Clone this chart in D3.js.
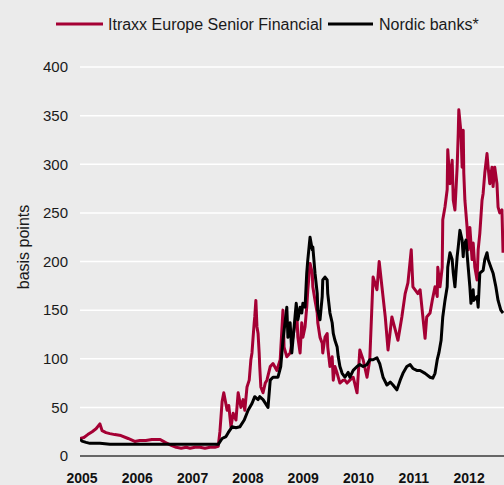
<!DOCTYPE html>
<html><head><meta charset="utf-8">
<script src="https://cdn.jsdelivr.net/npm/d3@7"></script>
<style>
html,body{margin:0;padding:0;background:#ebebeb;}
svg{display:block;font-family:"Liberation Sans",Arial,Helvetica,sans-serif;}
</style></head>
<body><svg id="c" width="504" height="485"></svg>
<script>
const seriesNames = ["Itraxx Europe Senior Financial", "Nordic banks*"];
const yTicks = [0, 50, 100, 150, 200, 250, 300, 350, 400];
const xTicks = [2005, 2006, 2007, 2008, 2009, 2010, 2011, 2012];

const itraxxYears = [2005.00,2005.07,2005.14,2005.22,2005.29,2005.36,2005.40,2005.47,2005.54,2005.63,2005.74,2005.87,2005.99,2006.08,2006.19,2006.30,2006.45,2006.54,2006.65,2006.74,2006.83,2006.92,2006.99,2007.08,2007.17,2007.26,2007.35,2007.44,2007.50,2007.53,2007.57,2007.60,2007.66,2007.69,2007.73,2007.77,2007.82,2007.86,2007.91,2007.95,2007.98,2008.02,2008.06,2008.09,2008.11,2008.13,2008.15,2008.16,2008.18,2008.20,2008.22,2008.24,2008.25,2008.27,2008.31,2008.35,2008.38,2008.44,2008.49,2008.56,2008.62,2008.67,2008.69,2008.74,2008.80,2008.85,2008.92,2008.94,2008.98,2009.01,2009.03,2009.07,2009.10,2009.12,2009.16,2009.20,2009.21,2009.25,2009.29,2009.30,2009.34,2009.38,2009.39,2009.43,2009.47,2009.48,2009.52,2009.56,2009.58,2009.61,2009.65,2009.70,2009.76,2009.79,2009.83,2009.88,2009.94,2010.01,2010.06,2010.12,2010.19,2010.24,2010.30,2010.37,2010.41,2010.46,2010.52,2010.57,2010.64,2010.70,2010.75,2010.82,2010.88,2010.93,2010.99,2011.02,2011.11,2011.15,2011.20,2011.24,2011.27,2011.33,2011.37,2011.42,2011.46,2011.47,2011.51,2011.55,2011.56,2011.60,2011.64,2011.65,2011.69,2011.73,2011.75,2011.78,2011.82,2011.84,2011.85,2011.89,2011.91,2011.93,2011.94,2011.96,2012.00,2012.02,2012.05,2012.09,2012.11,2012.14,2012.18,2012.20,2012.23,2012.27,2012.29,2012.32,2012.36,2012.38,2012.41,2012.45,2012.47,2012.50,2012.54,2012.56,2012.59,2012.63,2012.65];
const itraxxValues = [18,19,22,25,28,33,26,24,23,22,21,18,15,16,16,17,17,14,11,9,8,9,8,9,9,8,9,9,10,25,56,65,47,52,30,44,37,65,50,58,47,71,78,99,106,122,137,143,160,133,126,106,92,71,65,75,78,92,95,88,99,150,112,102,106,122,147,122,106,137,122,133,153,171,198,188,174,160,147,137,122,116,106,122,126,112,92,102,78,92,85,75,78,78,75,78,81,65,109,99,81,99,184,171,200,174,143,109,143,130,119,143,167,178,212,174,167,171,143,121,143,147,160,174,164,194,174,194,243,256,274,315,280,304,263,253,297,332,356,332,297,335,291,263,235,212,235,202,219,194,181,212,229,263,270,291,311,297,280,297,277,297,280,256,250,253,209];

const nordicYears = [2005.00,2005.05,2005.11,2005.18,2005.36,2005.54,2007.50,2007.57,2007.64,2007.68,2007.75,2007.82,2007.89,2007.97,2008.04,2008.11,2008.16,2008.22,2008.25,2008.31,2008.40,2008.44,2008.49,2008.58,2008.63,2008.67,2008.74,2008.76,2008.80,2008.83,2008.85,2008.91,2008.94,2008.98,2009.01,2009.03,2009.07,2009.10,2009.12,2009.16,2009.20,2009.21,2009.25,2009.29,2009.30,2009.34,2009.38,2009.39,2009.43,2009.47,2009.48,2009.52,2009.56,2009.58,2009.61,2009.65,2009.67,2009.70,2009.74,2009.79,2009.85,2009.88,2009.94,2010.01,2010.06,2010.12,2010.19,2010.24,2010.30,2010.37,2010.42,2010.48,2010.55,2010.61,2010.66,2010.73,2010.79,2010.84,2010.91,2010.97,2011.02,2011.09,2011.15,2011.24,2011.33,2011.38,2011.42,2011.46,2011.49,2011.53,2011.56,2011.60,2011.64,2011.65,2011.69,2011.73,2011.75,2011.78,2011.82,2011.84,2011.87,2011.91,2011.93,2011.94,2011.98,2012.02,2012.05,2012.07,2012.11,2012.12,2012.18,2012.20,2012.23,2012.29,2012.32,2012.36,2012.38,2012.43,2012.47,2012.52,2012.56,2012.61,2012.65];
const nordicValues = [17,15,14,13,13,12,12,18,20,24,30,29,30,37,47,54,61,58,61,58,50,78,81,81,92,119,153,122,137,106,119,157,140,153,147,157,153,188,202,225,212,215,188,167,150,140,164,181,184,181,167,147,137,126,119,112,102,92,85,81,86,81,88,92,94,92,94,99,99,101,95,81,73,76,73,68,78,85,92,94,90,88,88,85,81,80,85,99,106,119,143,160,174,194,209,202,188,174,205,215,232,222,205,215,222,194,174,157,171,160,164,153,188,191,202,209,202,194,188,174,160,150,147];

const colors = ["#a50034", "#000000"];

const svg = d3.select("#c");
const mLeft = 80, mRight = 504, mTop = 67, mBottom = 456;
const x = d3.scaleLinear().domain([2005, 2005 + (mRight - mLeft) / 55.3]).range([mLeft, mRight]);
const y = d3.scaleLinear().domain([0, 400]).range([mBottom, mTop]);

// gridlines
svg.append("g").selectAll("line").data(yTicks.filter(d => d > 0)).join("line")
  .attr("x1", mLeft).attr("x2", mRight)
  .attr("y1", d => y(d)).attr("y2", d => y(d))
  .attr("stroke", "#ffffff").attr("stroke-width", 1.5);

// y axis labels
const yAxis = d3.axisLeft(y).tickValues(yTicks).tickSize(0).tickPadding(12).tickFormat(d3.format("d"));
const gy = svg.append("g").attr("transform", `translate(${mLeft},0)`).call(yAxis);
gy.select(".domain").remove();
gy.selectAll("text").attr("font-size", 15).attr("fill", "#1a1a1a")
  .attr("font-family", '"Liberation Sans",Arial,sans-serif');

// x axis labels
const xAxis = d3.axisBottom(x).tickValues(xTicks).tickSize(0).tickPadding(17).tickFormat(d3.format("d"));
const gx = svg.append("g").attr("transform", `translate(0,${mBottom})`).call(xAxis);
gx.select(".domain").remove();
gx.selectAll("text").attr("font-size", 14).attr("font-weight", "bold").attr("fill", "#111")
  .attr("font-family", '"Liberation Sans",Arial,sans-serif').attr("dx", 1.5);

// y title
svg.append("text").attr("transform", `translate(29,247) rotate(-90)`)
  .attr("text-anchor", "middle").attr("font-size", 16).attr("fill", "#1a1a1a").text("basis points");

// clip
svg.append("clipPath").attr("id", "clip").append("rect")
  .attr("x", mLeft).attr("y", 0).attr("width", mRight - mLeft).attr("height", mBottom);

const line = d3.line().x(d => x(d[0])).y(d => y(d[1]));
const series = [
  d3.zip(itraxxYears, itraxxValues),
  d3.zip(nordicYears, nordicValues)
];
const gl = svg.append("g").attr("clip-path", "url(#clip)");
series.forEach((s, i) => {
  gl.append("path").datum(s).attr("d", line).attr("fill", "none")
    .attr("stroke", colors[i]).attr("stroke-width", 3).attr("stroke-linejoin", "round");
});

// zero axis line
svg.append("line").attr("x1", mLeft).attr("x2", mRight).attr("y1", y(0)).attr("y2", y(0))
  .attr("stroke", "#3a3a3a").attr("stroke-width", 1.3);

// legend
const legendItems = [
  {name: seriesNames[0], color: colors[0], x1: 56, x2: 103, tx: 108},
  {name: seriesNames[1], color: colors[1], x1: 328, x2: 373, tx: 379}
];
const lg = svg.append("g");
legendItems.forEach(d => {
  lg.append("line").attr("x1", d.x1).attr("x2", d.x2).attr("y1", 24).attr("y2", 24)
    .attr("stroke", d.color).attr("stroke-width", 3);
  lg.append("text").attr("x", d.tx).attr("y", 24).attr("dy", "0.35em")
    .attr("font-size", 16).attr("fill", "#1a1a1a").text(d.name);
});
</script></body></html>
